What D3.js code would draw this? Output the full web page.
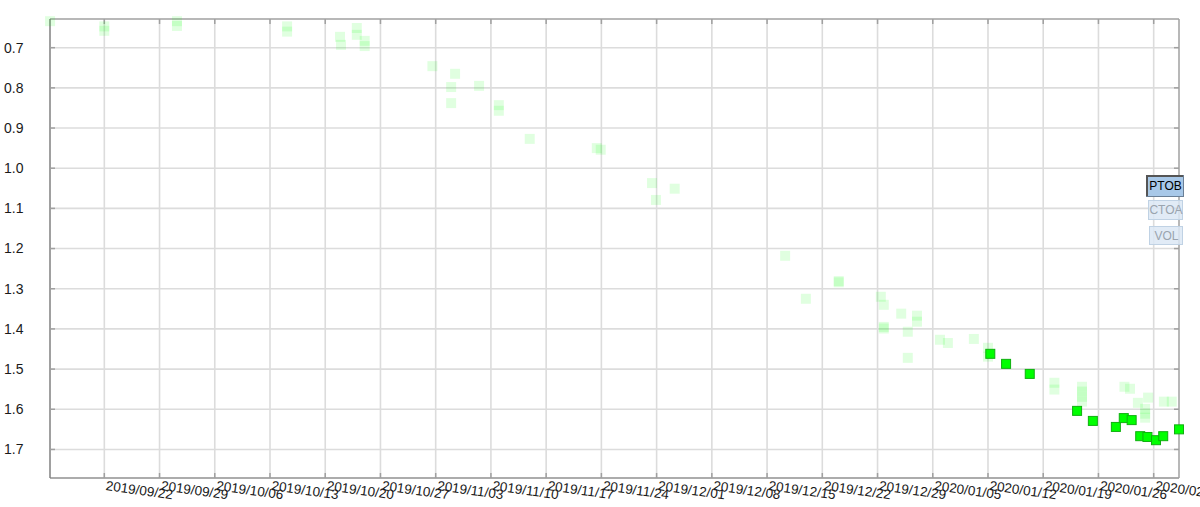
<!DOCTYPE html>
<html><head><meta charset="utf-8">
<script src="https://cdn.jsdelivr.net/npm/d3@7"></script>
<style>
html,body{margin:0;padding:0;background:#fff;}
svg{display:block;font-family:"Liberation Sans",Arial,sans-serif;}
</style></head>
<body>
<svg id="chart" width="1200" height="507"></svg>
<script>
// ---- data ----
const xTickLabels = ["2019/09/22","2019/09/29","2019/10/06","2019/10/13","2019/10/20","2019/10/27","2019/11/03","2019/11/10","2019/11/17","2019/11/24","2019/12/01","2019/12/08","2019/12/15","2019/12/22","2019/12/29","2020/01/05","2020/01/12","2020/01/19","2020/01/26","2020/02/02"];
const yTicks = [0.7,0.8,0.9,1.0,1.1,1.2,1.3,1.4,1.5,1.6,1.7];

// faded (history) points
const fadedDates = ["2019-09-15 03","2019-09-22 00","2019-09-22 00","2019-10-01 05","2019-10-01 05","2019-10-15 04","2019-10-15 04","2019-10-21 21","2019-10-22 00","2019-10-24 00","2019-10-24 00","2019-10-25 00","2019-10-25 00","2019-11-02 14","2019-11-05 11","2019-11-04 23","2019-11-04 23","2019-11-08 12","2019-11-11 00","2019-11-11 00","2019-11-14 22","2019-11-23 10","2019-11-23 22","2019-11-30 10","2019-11-30 22","2019-12-03 07","2019-12-17 07","2019-12-19 22","2019-12-24 02","2019-12-24 02","2019-12-29 10","2019-12-29 19","2019-12-29 19","2019-12-29 19","2020-01-01 00","2020-01-03 00","2020-01-03 00","2020-01-01 20","2020-01-01 20","2020-01-05 22","2020-01-06 22","2020-01-10 05","2020-01-12 00","2020-01-12 00","2020-01-20 10","2020-01-20 10","2020-01-23 22","2020-01-23 22","2020-01-23 22","2020-01-23 22","2020-01-29 07","2020-01-30 00","2020-01-31 00","2020-02-01 07","2020-01-31 22","2020-01-31 22","2020-01-31 22","2020-02-03 07","2020-02-04 07"];
const fadedValues = [0.634,0.647,0.658,0.634,0.646,0.647,0.660,0.673,0.693,0.651,0.668,0.683,0.696,0.746,0.765,0.798,0.838,0.795,0.843,0.857,0.927,0.950,0.954,1.037,1.079,1.051,1.218,1.325,1.281,1.284,1.320,1.340,1.395,1.399,1.362,1.367,1.382,1.407,1.472,1.427,1.435,1.425,1.447,1.469,1.534,1.551,1.544,1.556,1.569,1.581,1.544,1.549,1.584,1.571,1.599,1.611,1.621,1.581,1.581];

// current (highlighted) points
const darkDates = ["2020-01-12 07","2020-01-14 07","2020-01-17 07","2020-01-23 07","2020-01-25 07","2020-01-28 05","2020-01-29 05","2020-01-30 05","2020-01-31 07","2020-02-01 05","2020-02-02 07","2020-02-03 05","2020-02-05 05"];
const darkValues = [1.462,1.487,1.512,1.604,1.629,1.644,1.622,1.627,1.667,1.669,1.677,1.667,1.650];

const buttons = ["PTOB","CTOA","VOL"];

// ---- layout ----
const L = 50, R = 1179, T = 19, B = 478;
const parseD = d3.timeParse("%Y-%m-%d %H");
const parseTick = d3.timeParse("%Y/%m/%d");

const x = d3.scaleTime()
  .domain([new Date(2019,8,15,2,48), new Date(2020,1,5,5,0)])
  .range([L, R]);
const y = d3.scaleLinear().domain([0.6286, 1.7711]).range([T, B]);

const svg = d3.select("#chart");
const g = svg.append("g");

const xTicks = xTickLabels.map(parseTick);

// grid
g.append("g").selectAll("line").data(yTicks).join("line")
  .attr("x1", L).attr("x2", R).attr("y1", d => y(d)).attr("y2", d => y(d))
  .attr("stroke", "#dcdcdc").attr("stroke-width", 1.6);
g.append("g").selectAll("line").data(xTicks).join("line")
  .attr("x1", d => x(d)).attr("x2", d => x(d)).attr("y1", T).attr("y2", B)
  .attr("stroke", "#dcdcdc").attr("stroke-width", 1.6);

// frame
const frame = g.append("g").attr("stroke", "#a0a0a0").attr("stroke-width", 1.5);
frame.append("line").attr("x1", L).attr("x2", R).attr("y1", T).attr("y2", T);
frame.append("line").attr("x1", L).attr("x2", R).attr("y1", B).attr("y2", B).attr("stroke","#909090");
frame.append("line").attr("x1", L).attr("x2", L).attr("y1", T).attr("y2", B).attr("stroke","#808080");
frame.append("line").attr("x1", R).attr("x2", R).attr("y1", T).attr("y2", B);

// tick marks (inward on all sides)
const tk = g.append("g").attr("stroke", "#a0a0a0").attr("stroke-width", 1.5);
tk.selectAll(".yl").data(yTicks).join("line").attr("class","yl")
  .attr("x1", L).attr("x2", L+5).attr("y1", d => y(d)).attr("y2", d => y(d));
tk.selectAll(".yr").data(yTicks).join("line").attr("class","yr")
  .attr("x1", R-5).attr("x2", R).attr("y1", d => y(d)).attr("y2", d => y(d));
tk.selectAll(".xt").data(xTicks).join("line").attr("class","xt")
  .attr("x1", d => x(d)).attr("x2", d => x(d)).attr("y1", T).attr("y2", T+5);
tk.selectAll(".xb").data(xTicks).join("line").attr("class","xb")
  .attr("x1", d => x(d)).attr("x2", d => x(d)).attr("y1", B-5).attr("y2", B);

// y labels
g.append("g").selectAll("text").data(yTicks).join("text")
  .attr("x", 4).attr("y", d => y(d)).attr("dy", "0.35em")
  .attr("font-size", 14).attr("fill", "#1a1a1a")
  .text(d => d3.format(".1f")(d));

// x labels
g.append("g").selectAll("text").data(xTicks).join("text")
  .attr("transform", d => `translate(${x(d)+1},490) rotate(8)`)
  .attr("font-size", 13.5).attr("fill", "#1a1a1a")
  .text((d,i) => xTickLabels[i]);

// points
const S = 10;
const faded = fadedDates.map((d,i) => ({t: parseD(d), v: fadedValues[i]}));
const dark = darkDates.map((d,i) => ({t: parseD(d), v: darkValues[i]}));

g.append("g").selectAll("rect").data(faded).join("rect")
  .attr("x", d => x(d.t) - S/2).attr("y", d => y(d.v) - S/2)
  .attr("width", S).attr("height", S)
  .attr("fill", "#00ff00").attr("fill-opacity", 0.12);

g.append("g").selectAll("rect").data(dark).join("rect")
  .attr("x", d => x(d.t) - S/2 + 0.5).attr("y", d => y(d.v) - S/2 + 0.5)
  .attr("width", S-1).attr("height", S-1)
  .attr("fill", "#00ff00").attr("stroke", "#10b010").attr("stroke-width", 1);

// buttons
const bspec = [
  {x:1146, y:175, w:37, h:21, fill:"#a8c8e8", stroke:"#6a7f96", text:"#000", op:1},
  {x:1148, y:200, w:34, h:19, fill:"#dce8f4", stroke:"#c0d2e4", text:"#9aa4ae", op:0.85},
  {x:1149, y:226, w:33, h:18, fill:"#dce8f4", stroke:"#c0d2e4", text:"#9aa4ae", op:0.85}
];
const bg = g.append("g");
bg.selectAll("g").data(buttons).join("g").each(function(b,i){
  const s = bspec[i];
  const gg = d3.select(this);
  gg.append("rect").attr("x", s.x+0.5).attr("y", s.y+0.5).attr("width", s.w).attr("height", s.h)
    .attr("fill", s.fill).attr("fill-opacity", s.op).attr("stroke", s.stroke).attr("stroke-width", 1);
  if (i === 0) {
    gg.append("path").attr("d", `M${s.x+1},${s.y+s.h}V${s.y+1}H${s.x+s.w}`)
      .attr("fill","none").attr("stroke","#555").attr("stroke-width",2);
  }
  gg.append("text").attr("x", s.x + s.w/2 + 1).attr("y", s.y + s.h/2 + 0.5).attr("dy","0.36em")
    .attr("text-anchor","middle").attr("font-size", 12).attr("fill", s.text).text(b);
});
</script>
</body></html>
